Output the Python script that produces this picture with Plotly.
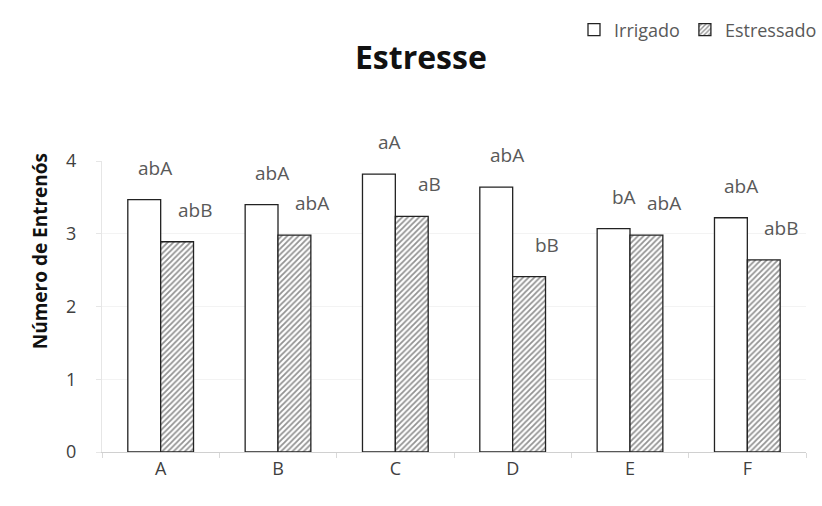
import plotly.graph_objects as go

categories = ["A", "B", "C", "D", "E", "F"]
irrigado = [3.47, 3.40, 3.82, 3.64, 3.07, 3.22]
estressado = [2.89, 2.98, 3.24, 2.41, 2.98, 2.64]
labels_irrigado = ["abA", "abA", "aA", "abA", "bA", "abA"]
labels_estressado = ["abB", "abA", "aB", "bB", "abA", "abB"]
y_ticks = [0, 1, 2, 3, 4]

FONT = "Open Sans"
GRAY = "#404040"

fig = go.Figure()
fig.add_trace(go.Bar(
    name="Irrigado", x=categories, y=irrigado,
    marker=dict(color="white", line=dict(color="#222222", width=1.3)),
))
fig.add_trace(go.Bar(
    name="Estressado", x=categories, y=estressado,
    marker=dict(color="white", line=dict(color="#222222", width=1.3),
                pattern=dict(shape="/", fgcolor="#262626", bgcolor="white",
                             size=4, solidity=0.45)),
))

for c, v, t in zip(categories, irrigado, labels_irrigado):
    fig.add_annotation(x=c, y=v, text=t, showarrow=False, xshift=-6, yshift=32,
                       font=dict(family=FONT, size=19, color="#595959"))
for c, v, t in zip(categories, estressado, labels_estressado):
    fig.add_annotation(x=c, y=v, text=t, showarrow=False, xshift=34, yshift=32,
                       font=dict(family=FONT, size=19, color="#595959"))

fig.add_annotation(text="<b>Número de Entrenós</b>", textangle=-90, showarrow=False,
                   xref="paper", x=-0.088, xanchor="center",
                   yref="paper", y=0.69, yanchor="middle",
                   font=dict(family=FONT, size=19, color="#111111"))

fig.update_layout(
    width=822, height=506,
    paper_bgcolor="white", plot_bgcolor="white",
    margin=dict(l=102, r=16, t=161, b=54),
    barmode="group", bargap=0.44, bargroupgap=0,
    title=dict(text="<b>Estresse</b>", x=0.512, xanchor="center",
               y=1 - 58 / 506, yanchor="middle", yref="container",
               font=dict(family=FONT, size=32, color="#111111")),
    legend=dict(orientation="h", x=1.0, xanchor="right", xref="container",
                y=1 - 30 / 506, yanchor="middle", yref="container",
                font=dict(family=FONT, size=18, color="#595959"),
                itemwidth=30, traceorder="normal"),
    xaxis=dict(showline=True, linecolor="#d0d0d0", linewidth=1,
               ticks="outside", tickson="boundaries", tickcolor="#d9d9d9",
               ticklen=5, tickfont=dict(family=FONT, size=18, color=GRAY)),
    yaxis=dict(range=[0, 4], tickvals=y_ticks, showgrid=True,
               gridcolor="#f3f3f3", showline=True, linecolor="#e6e6e6",
               ticks="outside", tickcolor="#e6e6e6", ticklen=5,
               ticklabelstandoff=16, zeroline=False,
               tickfont=dict(family=FONT, size=18, color=GRAY)),
)

fig.write_html("out.html", config={"displayModeBar": False},
               post_script="document.body.style.margin='0';document.body.style.padding='0';")
